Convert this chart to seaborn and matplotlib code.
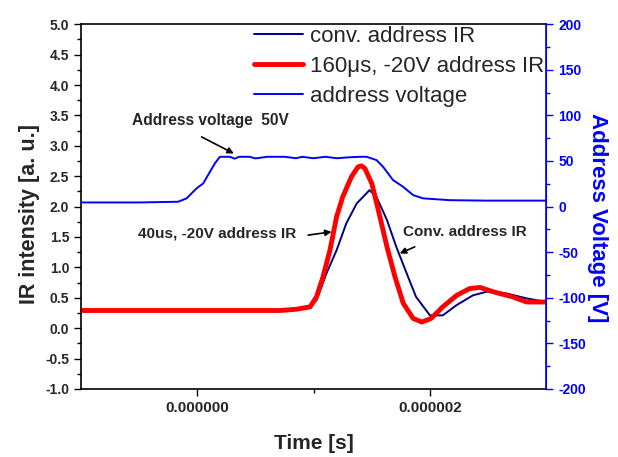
import pandas as pd
import seaborn as sns
import matplotlib.pyplot as plt
from matplotlib.ticker import MultipleLocator, FixedLocator

# tiempos en microsegundos (se pasan a segundos abajo)
t_voltage = [-1.0, -0.5, -0.164, -0.092, -0.006, 0.051, 0.108, 0.151, 0.194, 0.28, 0.32, 0.36,
             0.45, 0.50, 0.60, 0.75, 0.85, 0.90, 1.00, 1.10, 1.20, 1.30, 1.40, 1.455, 1.54,
             1.597, 1.683, 1.769, 1.855, 1.941, 2.17, 2.5, 3.0]
voltage = [4.5, 4.5, 5.3, 9.0, 20.0, 25.4, 38.0, 47.3, 54.6, 54.6, 52.5, 54.6,
           54.6, 52.8, 54.6, 54.6, 53.0, 54.6, 53.0, 54.6, 53.0, 54.0, 54.6, 54.6, 51.0,
           43.6, 29.0, 21.7, 12.6, 9.0, 7.0, 6.5, 6.5]

t_new = [-1.0, 0.0, 0.5, 0.71, 0.85, 0.97, 1.025, 1.08, 1.14, 1.197, 1.25, 1.325, 1.38, 1.41,
         1.44, 1.50, 1.57, 1.63, 1.70, 1.77, 1.855, 1.93, 2.01, 2.11, 2.23, 2.34, 2.43, 2.54,
         2.71, 2.83, 3.0]
ir_new = [0.29, 0.29, 0.29, 0.29, 0.31, 0.35, 0.515, 0.84, 1.28, 1.83, 2.16, 2.49, 2.65, 2.67,
          2.63, 2.38, 1.83, 1.34, 0.84, 0.41, 0.16, 0.10, 0.16, 0.35, 0.54, 0.65, 0.67, 0.60,
          0.515, 0.43, 0.43]

t_conv = [-1.0, 0.71, 0.85, 0.97, 1.025, 1.11, 1.197, 1.28, 1.37, 1.44, 1.48, 1.54, 1.63, 1.71,
          1.80, 1.88, 2.0, 2.11, 2.23, 2.37, 2.49, 2.66, 2.83, 3.0]
ir_conv = [0.29, 0.29, 0.31, 0.35, 0.46, 0.90, 1.28, 1.72, 2.05, 2.19, 2.27, 2.16, 1.78, 1.34,
           0.90, 0.515, 0.21, 0.21, 0.38, 0.54, 0.60, 0.57, 0.49, 0.43]

df_v = pd.DataFrame({"t": [x * 1e-6 for x in t_voltage], "v": voltage})
df_new = pd.DataFrame({"t": [x * 1e-6 for x in t_new], "ir": ir_new})
df_conv = pd.DataFrame({"t": [x * 1e-6 for x in t_conv], "ir": ir_conv})

sns.set_style("ticks")
plt.rcParams["font.family"] = ["Liberation Sans", "DejaVu Sans"]

fig = plt.figure(figsize=(6.18, 4.57), dpi=100)
ax = fig.add_axes([0.131, 0.149, 0.753, 0.798])
ax2 = ax.twinx()

sns.lineplot(data=df_conv, x="t", y="ir", color="#000080", lw=1.4, sort=False,
             estimator=None, ax=ax, label="conv. address IR")
sns.lineplot(data=df_new, x="t", y="ir", color="#ff0000", lw=3.5, sort=False,
             estimator=None, ax=ax, label="160\u03bcs, -20V address IR")
sns.lineplot(data=df_v, x="t", y="v", color="#0000ff", lw=1.4, sort=False,
             estimator=None, ax=ax2, label="address voltage")

ax.set_xlim(-1e-6, 3e-6)
ax.set_ylim(-1.0, 5.0)
ax2.set_ylim(-200, 200)

ax.xaxis.set_major_locator(FixedLocator([0.0, 2e-6]))
ax.xaxis.set_minor_locator(FixedLocator([1e-6]))
ax.set_xticklabels(["0.000000", "0.000002"], fontsize=11, fontweight="bold")
ax.yaxis.set_minor_locator(MultipleLocator(0.25))
ax.set_yticks([i * 0.5 - 1.0 for i in range(13)])
ax.set_yticklabels([f"{i * 0.5 - 1.0:.1f}" for i in range(13)], fontsize=10, fontweight="bold")
ax2.yaxis.set_minor_locator(MultipleLocator(25))
ax2.set_yticks(range(-200, 201, 50))
ax2.set_yticklabels([str(v) for v in range(-200, 201, 50)], fontsize=10,
                    fontweight="bold", color="#0000ff")

ax.tick_params(axis="both", which="major", direction="out", length=5, width=1, color="black")
ax.tick_params(axis="both", which="minor", direction="out", length=3, width=1, color="black")
ax.tick_params(axis="y", which="both", right=False)
ax.tick_params(axis="x", which="both", top=False)
ax2.tick_params(axis="y", which="major", direction="out", length=5, width=1, color="#0000ff")
ax2.tick_params(axis="y", which="minor", direction="out", length=3, width=1, color="#0000ff")

for sp in ["left", "bottom", "top"]:
    ax.spines[sp].set_color("black")
    ax.spines[sp].set_linewidth(1.2)
ax2.spines["right"].set_color("#0000ff")
ax2.spines["right"].set_linewidth(1.2)
ax2.spines["left"].set_visible(False)
ax2.spines["top"].set_visible(False)
ax2.spines["bottom"].set_visible(False)

ax.set_xlabel("Time [s]", fontsize=15, fontweight="bold", labelpad=14)
ax.set_ylabel("IR intensity [a. u.]", fontsize=15.5, fontweight="bold", labelpad=4, y=0.48)
ax2.set_ylabel("Address Voltage [V]", fontsize=16, fontweight="bold", color="#0000ff",
               rotation=-90, labelpad=16, y=0.47)

# leyenda combinada
h1, l1 = ax.get_legend_handles_labels()
h2, l2 = ax2.get_legend_handles_labels()
ax.get_legend().remove()
ax2.get_legend().remove()
ax2.legend(h1 + h2, l1 + l2, loc="upper left", bbox_to_anchor=(0.372, 0.995), frameon=False,
           fontsize=16, handlelength=2.2, handletextpad=0.3, labelspacing=0.4,
           borderaxespad=0, borderpad=0)

# anotaciones
arrow = dict(arrowstyle="-|>", color="black", lw=1.2, mutation_scale=9, shrinkA=0, shrinkB=0)
ax.text(-0.565e-6, 3.42, "Address voltage  50V", fontsize=11.2, fontweight="bold", va="center")
ax.annotate("", xy=(0.314e-6, 2.873), xytext=(0.037e-6, 3.146), arrowprops=arrow)
ax.text(-0.51e-6, 1.56, "40us, -20V address IR", fontsize=11, fontweight="bold", va="center")
ax.annotate("", xy=(1.154e-6, 1.584), xytext=(0.953e-6, 1.53), arrowprops=arrow)
ax.text(1.769e-6, 1.584, "Conv. address IR", fontsize=11, fontweight="bold", va="center")
ax.annotate("", xy=(1.74e-6, 1.229), xytext=(1.869e-6, 1.337), arrowprops=arrow)

fig.savefig("out.png", dpi=100)
